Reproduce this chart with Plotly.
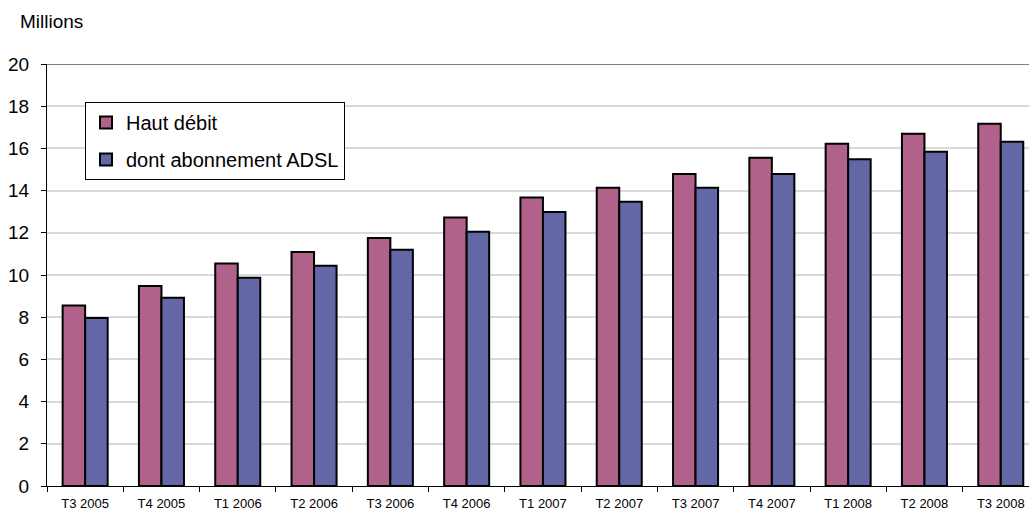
import plotly.graph_objects as go

categories = ["T3 2005", "T4 2005", "T1 2006", "T2 2006", "T3 2006", "T4 2006",
              "T1 2007", "T2 2007", "T3 2007", "T4 2007", "T1 2008", "T2 2008", "T3 2008"]
haut_debit = [8.55, 9.48, 10.54, 11.09, 11.75, 12.72, 13.67, 14.14, 14.79, 15.56, 16.22, 16.70, 17.17]
adsl = [7.96, 8.92, 9.87, 10.44, 11.20, 12.05, 12.99, 13.47, 14.14, 14.79, 15.48, 15.84, 16.32]
y_ticks = list(range(0, 21, 2))

W, H = 1029, 514
ml, mr, mt, mb = 47, 0, 64, 28
cat_px = 76.3
plot_w = W - ml - mr
plot_h = H - mt - mb
x_max = -0.5 + plot_w / cat_px

fig = go.Figure()
fig.add_trace(go.Bar(
    x=categories, y=haut_debit, name="Haut débit",
    marker=dict(color="#b0628a", line=dict(color="#000000", width=2)),
    legendgroup="a",
))
fig.add_trace(go.Bar(
    x=categories, y=adsl, name="dont abonnement ADSL",
    marker=dict(color="#6367a6", line=dict(color="#000000", width=2)),
    legendgroup="b",
))

fig.update_layout(
    width=W, height=H,
    margin=dict(l=ml, r=mr, t=mt, b=mb, pad=0),
    paper_bgcolor="white", plot_bgcolor="white",
    font=dict(family="Liberation Sans, Arial, sans-serif", color="#000000"),
    barmode="group", bargap=0.41, bargroupgap=0.0,
    showlegend=True,
    legend=dict(
        x=(85 - ml) / plot_w, y=(H - mb - 102) / plot_h,
        xanchor="left", yanchor="top",
        bgcolor="white", bordercolor="#000000", borderwidth=1,
        font=dict(size=20, family="Liberation Sans, Arial, sans-serif"),
        traceorder="grouped", tracegroupgap=8,
        itemwidth=30,
    ),
    xaxis=dict(
        type="category", range=[-0.5, x_max],
        showline=True, linecolor="#000000", linewidth=1,
        ticks="outside", ticklen=5, tickcolor="#000000", tickson="boundaries",
        tickfont=dict(size=13), ticklabelstandoff=5,
        showgrid=False, fixedrange=True,
    ),
    yaxis=dict(
        range=[0, 20], tickvals=y_ticks,
        showline=True, linecolor="#000000", linewidth=1,
        ticks="outside", ticklen=5, tickcolor="#000000",
        tickfont=dict(size=19), ticklabelstandoff=8,
        showgrid=True, gridcolor="#d9d9d9", gridwidth=1.5,
        zeroline=False,
    ),
    annotations=[dict(
        text="Millions", xref="paper", yref="paper",
        x=(18 - ml) / plot_w, y=1 + (mt - 22) / plot_h,
        xanchor="left", yanchor="middle", showarrow=False,
        font=dict(size=19),
    )],
    shapes=[dict(
        type="line", xref="paper", yref="y", x0=0, x1=1, y0=20, y1=20,
        line=dict(color="#808080", width=2),
    )],
)

fig.write_html(
    "out.html",
    config={"displayModeBar": False},
    post_script="document.body.style.margin='0';document.body.style.overflow='hidden';",
)
